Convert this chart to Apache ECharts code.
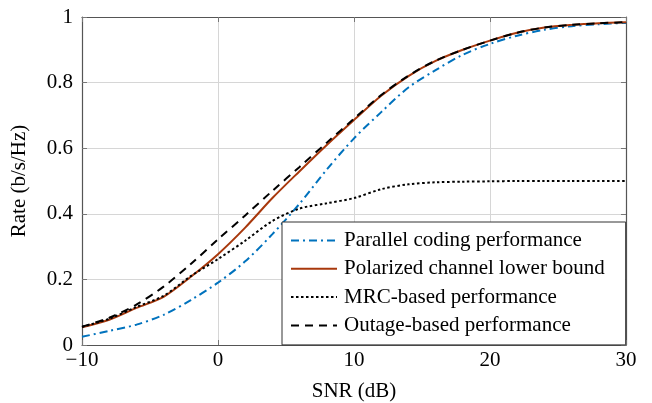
<!DOCTYPE html>
<html>
<head>
<meta charset="utf-8">
<script src="https://cdn.jsdelivr.net/npm/echarts@6/dist/echarts.min.js"></script>
<style>
  html, body { margin: 0; padding: 0; background: #fff; }
  #chart { width: 652px; height: 403px; }
</style>
</head>
<body>
<div id="chart"></div>
<script>
// SNR (dB) sample points
const snr = [-10, -8, -6, -4, -2, 0, 2, 4, 6, 8, 10, 12, 14, 16, 18, 20, 22, 24, 26, 28, 30];
// rates
const parallelCoding = [0.025, 0.043, 0.062, 0.092, 0.137, 0.19, 0.255, 0.338, 0.431, 0.535, 0.63, 0.71, 0.785, 0.838, 0.885, 0.918, 0.943, 0.961, 0.972, 0.978, 0.982];
const polarizedLower = [0.054, 0.077, 0.113, 0.147, 0.208, 0.277, 0.358, 0.448, 0.53, 0.61, 0.686, 0.76, 0.82, 0.866, 0.9, 0.928, 0.952, 0.968, 0.976, 0.981, 0.984];
const mrcBased = [0.055, 0.08, 0.116, 0.15, 0.21, 0.262, 0.318, 0.378, 0.416, 0.432, 0.448, 0.475, 0.49, 0.496, 0.498, 0.499, 0.5, 0.5, 0.5, 0.5, 0.5];
const outageBased = [0.056, 0.083, 0.123, 0.178, 0.247, 0.322, 0.395, 0.47, 0.543, 0.617, 0.69, 0.762, 0.821, 0.867, 0.9, 0.928, 0.952, 0.968, 0.976, 0.981, 0.984];
const seriesNames = ['Parallel coding performance', 'Polarized channel lower bound', 'MRC-based performance', 'Outage-based performance'];

const font = 'Liberation Serif';
const pair = (ys) => snr.map((x, i) => [x, ys[i]]);

let myecharts = echarts.init(document.getElementById('chart'));

// shared axis look
const axisLine = { show: true, onZero: false, lineStyle: { color: '#555', width: 1.2 } };
const axisTick = { show: true, inside: true, length: 5, lineStyle: { color: '#777' } };

myecharts.setOption({
  animation: false,
  backgroundColor: '#fff',
  grid: { left: 82, right: 26, top: 17, bottom: 58, outerBoundsMode: 'none' },
  xAxis: [
    {
      type: 'value', min: -10, max: 30, interval: 10,
      name: 'SNR (dB)', nameLocation: 'middle', nameGap: 36,
      nameTextStyle: { fontFamily: font, fontSize: 21, color: '#000' },
      axisLine, axisTick,
      axisLabel: {
        fontFamily: font, fontSize: 21, color: '#000', margin: 5,
        formatter: (v) => String(v).replace('-', '\u2212')
      },
      splitLine: { show: true, lineStyle: { color: '#d6d6d6', width: 1 } }
    },
    {
      //上边框只显示刻度
      type: 'value', position: 'top', min: -10, max: 30, interval: 10,
      axisLine, axisTick, axisLabel: { show: false }, splitLine: { show: false }
    }
  ],
  yAxis: [
    {
      type: 'value', min: 0, max: 1, interval: 0.2,
      name: 'Rate (b/s/Hz)', nameLocation: 'middle', nameGap: 52,
      nameTextStyle: { fontFamily: font, fontSize: 21, color: '#000' },
      axisLine, axisTick,
      axisLabel: { fontFamily: font, fontSize: 21, color: '#000', margin: 9 },
      splitLine: { show: true, lineStyle: { color: '#d6d6d6', width: 1 } }
    },
    {
      type: 'value', position: 'right', min: 0, max: 1, interval: 0.2,
      axisLine, axisTick, axisLabel: { show: false }, splitLine: { show: false }
    }
  ],
  legend: {
    orient: 'vertical',
    left: 282, top: 222,
    padding: [8, 21, 9, 8],
    itemWidth: 46, itemHeight: 14, itemGap: 7.3,
    backgroundColor: '#fff',
    borderColor: '#333', borderWidth: 1, borderRadius: 0,
    itemStyle: { opacity: 0 },
    textStyle: { fontFamily: font, fontSize: 21, color: '#000', padding: [0, 0, 0, 2] },
    data: seriesNames
  },
  series: [
    {
      name: seriesNames[0], type: 'line', data: pair(parallelCoding),
      smooth: 0.3, symbol: 'none', z: 2,
      lineStyle: { color: '#0072bd', width: 2, type: [8, 4, 2, 4] },
      itemStyle: { color: '#0072bd' }
    },
    {
      name: seriesNames[1], type: 'line', data: pair(polarizedLower),
      smooth: 0.3, symbol: 'none', z: 3,
      lineStyle: { color: '#a8380c', width: 2 },
      itemStyle: { color: '#a8380c' }
    },
    {
      name: seriesNames[2], type: 'line', data: pair(mrcBased),
      smooth: 0.3, symbol: 'none', z: 4,
      lineStyle: { color: '#000', width: 2, type: [2.5, 2.5] },
      itemStyle: { color: '#000' }
    },
    {
      name: seriesNames[3], type: 'line', data: pair(outageBased),
      smooth: 0.3, symbol: 'none', z: 5,
      lineStyle: { color: '#000', width: 2, type: [8, 6] },
      itemStyle: { color: '#000' }
    }
  ]
});
</script>
</body>
</html>
